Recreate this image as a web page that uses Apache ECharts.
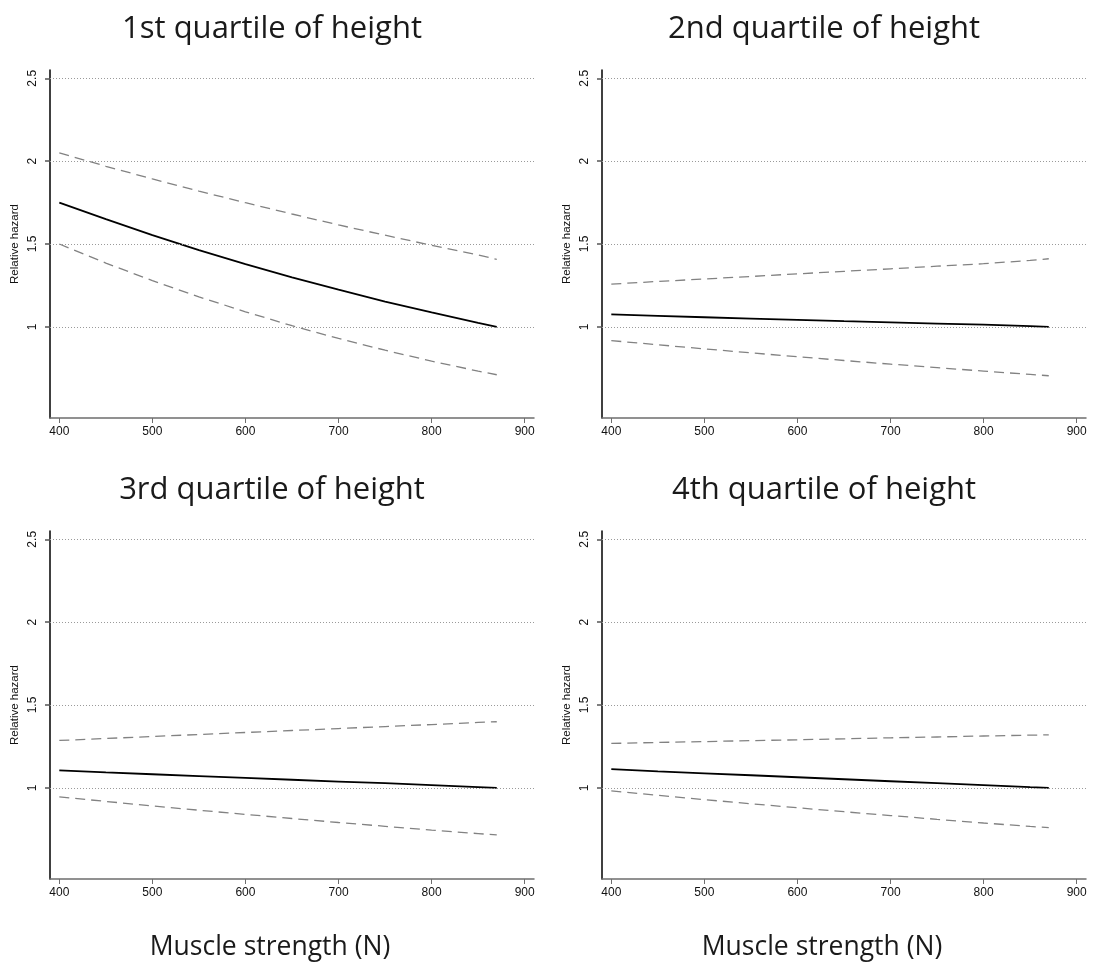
<!DOCTYPE html>
<html>
<head>
<meta charset="utf-8">
<script src="https://cdn.jsdelivr.net/npm/echarts@6/dist/echarts.min.js"></script>
<style>html,body{margin:0;padding:0;background:#fff}#c{width:1093px;height:967px}</style>
</head>
<body>
<div id="c"></div>
<script>
const strength = [400, 450, 500, 550, 600, 650, 700, 750, 800, 850, 870];
const xTicks = [400, 500, 600, 700, 800, 900];
const yTicks = [1, 1.5, 2, 2.5];
const titles = ['1st quartile of height', '2nd quartile of height', '3rd quartile of height', '4th quartile of height'];

const q1Est   = [1.750, 1.650, 1.554, 1.463, 1.379, 1.299, 1.224, 1.153, 1.087, 1.024, 1.000];
const q1Upper = [2.050, 1.969, 1.893, 1.819, 1.749, 1.681, 1.615, 1.553, 1.492, 1.434, 1.407];
const q1Lower = [1.500, 1.385, 1.279, 1.181, 1.091, 1.007, 0.930, 0.859, 0.793, 0.733, 0.711];

const q2Est   = [1.075, 1.066, 1.058, 1.050, 1.042, 1.034, 1.027, 1.020, 1.013, 1.004, 1.000];
const q2Upper = [1.258, 1.274, 1.289, 1.304, 1.320, 1.335, 1.350, 1.366, 1.381, 1.401, 1.411];
const q2Lower = [0.917, 0.892, 0.867, 0.843, 0.820, 0.797, 0.775, 0.754, 0.733, 0.713, 0.705];

const q3Est   = [1.105, 1.093, 1.082, 1.071, 1.060, 1.049, 1.038, 1.028, 1.017, 1.005, 1.000];
const q3Upper = [1.286, 1.298, 1.310, 1.322, 1.334, 1.346, 1.358, 1.370, 1.382, 1.395, 1.399];
const q3Lower = [0.946, 0.918, 0.891, 0.865, 0.840, 0.815, 0.791, 0.768, 0.745, 0.724, 0.716];

const q4Est   = [1.113, 1.100, 1.088, 1.076, 1.064, 1.052, 1.040, 1.028, 1.016, 1.004, 1.000];
const q4Upper = [1.268, 1.274, 1.279, 1.285, 1.290, 1.296, 1.302, 1.307, 1.313, 1.318, 1.320];
const q4Lower = [0.982, 0.955, 0.929, 0.904, 0.880, 0.856, 0.833, 0.810, 0.788, 0.767, 0.760];

const panels = [
  [q1Est, q1Upper, q1Lower],
  [q2Est, q2Upper, q2Lower],
  [q3Est, q3Upper, q3Lower],
  [q4Est, q4Upper, q4Lower]
];

const gridPos = [
  {left: 50, top: 70, width: 484, height: 348},
  {left: 602, top: 70, width: 484, height: 348},
  {left: 50, top: 531, width: 484, height: 348},
  {left: 602, top: 531, width: 484, height: 348}
];
const titleCenters = [[267, 9], [819, 9], [267, 470], [819, 470]];

const pairs = d => strength.map((x, i) => [x, d[i]]);

const option = {
  animation: false,
  backgroundColor: '#fff',
  title: titles.map((t, i) => ({
    text: t,
    left: titleCenters[i][0],
    top: titleCenters[i][1],
    textAlign: 'center',
    textStyle: {fontFamily: 'Open Sans', fontSize: 31, fontWeight: 'normal', color: '#1a1a1a'}
  })),
  grid: gridPos.map(g => Object.assign({containLabel: false}, g)),
  xAxis: gridPos.map((g, i) => ({
    type: 'value',
    gridIndex: i,
    min: 390,
    max: 910,
    name: i >= 2 ? 'Muscle strength (N)' : '',
    nameLocation: 'middle',
    nameGap: 55,
    nameTextStyle: {fontFamily: 'Open Sans', fontSize: 26.5, color: '#1a1a1a', padding: [0, 44, 0, 0]},
    axisLine: {show: true, onZero: false, lineStyle: {color: '#6e6e6e', width: 1.5}},
    axisTick: {show: true, length: 5, customValues: xTicks, lineStyle: {color: '#6e6e6e', width: 1}},
    axisLabel: {customValues: xTicks, margin: 8, fontFamily: 'Liberation Sans', fontSize: 12, color: '#111'},
    splitLine: {show: false}
  })),
  yAxis: gridPos.map((g, i) => ({
    type: 'value',
    gridIndex: i,
    min: 0.45,
    max: 2.55,
    name: 'Relative hazard',
    nameLocation: 'middle',
    nameGap: 29,
    nameRotate: 90,
    nameTextStyle: {fontFamily: 'Liberation Sans', fontSize: 11.5, color: '#111'},
    axisLine: {show: true, onZero: false, lineStyle: {color: '#000', width: 1.5}},
    axisTick: {show: true, length: 5, customValues: yTicks, lineStyle: {color: '#555', width: 1.5}},
    axisLabel: {customValues: yTicks, rotate: 90, margin: 11, fontFamily: 'Liberation Sans', fontSize: 12, color: '#111',
      formatter: v => String(v)},
    splitLine: {show: false}
  })),
  series: []
};

panels.forEach((p, i) => {
  option.series.push({
    type: 'line', xAxisIndex: i, yAxisIndex: i, data: [], silent: true,
    markLine: {
      silent: true, symbol: 'none', label: {show: false},
      lineStyle: {type: [1, 2], color: '#9a9a9a', width: 1},
      data: yTicks.map(v => ({yAxis: v}))
    }
  });
  option.series.push({
    type: 'line', xAxisIndex: i, yAxisIndex: i, data: pairs(p[1]), symbol: 'none', smooth: false,
    lineStyle: {color: '#828282', width: 1.3, type: [10, 6]}
  });
  option.series.push({
    type: 'line', xAxisIndex: i, yAxisIndex: i, data: pairs(p[2]), symbol: 'none', smooth: false,
    lineStyle: {color: '#828282', width: 1.3, type: [10, 6]}
  });
  option.series.push({
    type: 'line', xAxisIndex: i, yAxisIndex: i, data: pairs(p[0]), symbol: 'none', smooth: false,
    lineStyle: {color: '#000', width: 1.8}
  });
});

const chart = echarts.init(document.getElementById('c'), null, {renderer: 'canvas'});
chart.setOption(option);
</script>
</body>
</html>
